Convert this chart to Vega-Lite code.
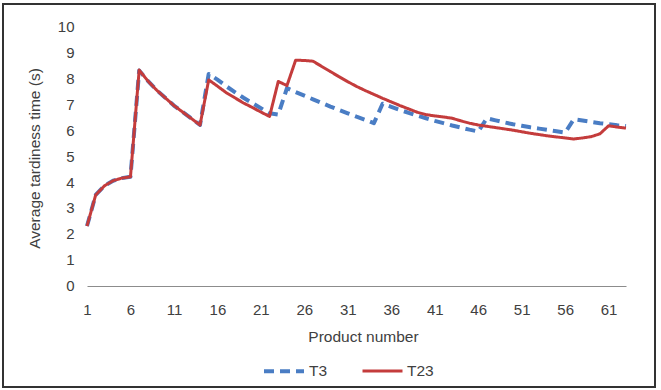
{
  "$schema": "https://vega.github.io/schema/vega-lite/v6.json",
  "width": 652,
  "height": 383,
  "autosize": {"type": "none"},
  "padding": {"left": 3, "top": 4, "right": 6, "bottom": 3},
  "background": "white",
  "config": {
    "view": {"stroke": "#333333", "strokeWidth": 2},
    "font": "Liberation Sans",
    "axis": {"labelFont": "Liberation Sans", "titleFont": "Liberation Sans", "labelColor": "#404040", "titleColor": "#404040", "titleFontWeight": "normal", "grid": false}
  },
  "data": {
    "values": [
      {"p":1,"s":"T3","v":2.3},{"p":2,"s":"T3","v":3.5},{"p":3,"s":"T3","v":3.85},{"p":4,"s":"T3","v":4.05},{"p":5,"s":"T3","v":4.15},{"p":6,"s":"T3","v":4.2},{"p":7,"s":"T3","v":8.3},{"p":8,"s":"T3","v":7.9},{"p":9,"s":"T3","v":7.55},{"p":10,"s":"T3","v":7.25},{"p":11,"s":"T3","v":6.95},{"p":12,"s":"T3","v":6.7},{"p":13,"s":"T3","v":6.45},{"p":14,"s":"T3","v":6.2},{"p":15,"s":"T3","v":8.17},{"p":16,"s":"T3","v":7.95},{"p":17,"s":"T3","v":7.7},{"p":18,"s":"T3","v":7.47},{"p":19,"s":"T3","v":7.25},{"p":20,"s":"T3","v":7.05},{"p":21,"s":"T3","v":6.85},{"p":22,"s":"T3","v":6.65},{"p":23,"s":"T3","v":6.6},{"p":24,"s":"T3","v":7.62},{"p":25,"s":"T3","v":7.47},{"p":26,"s":"T3","v":7.33},{"p":27,"s":"T3","v":7.19},{"p":28,"s":"T3","v":7.05},{"p":29,"s":"T3","v":6.91},{"p":30,"s":"T3","v":6.78},{"p":31,"s":"T3","v":6.65},{"p":32,"s":"T3","v":6.52},{"p":33,"s":"T3","v":6.4},{"p":34,"s":"T3","v":6.27},{"p":35,"s":"T3","v":7.02},{"p":36,"s":"T3","v":6.9},{"p":37,"s":"T3","v":6.78},{"p":38,"s":"T3","v":6.67},{"p":39,"s":"T3","v":6.56},{"p":40,"s":"T3","v":6.46},{"p":41,"s":"T3","v":6.36},{"p":42,"s":"T3","v":6.27},{"p":43,"s":"T3","v":6.18},{"p":44,"s":"T3","v":6.1},{"p":45,"s":"T3","v":6.02},{"p":46,"s":"T3","v":5.95},{"p":47,"s":"T3","v":6.46},{"p":48,"s":"T3","v":6.38},{"p":49,"s":"T3","v":6.3},{"p":50,"s":"T3","v":6.23},{"p":51,"s":"T3","v":6.17},{"p":52,"s":"T3","v":6.11},{"p":53,"s":"T3","v":6.06},{"p":54,"s":"T3","v":6.01},{"p":55,"s":"T3","v":5.96},{"p":56,"s":"T3","v":5.91},{"p":57,"s":"T3","v":6.42},{"p":58,"s":"T3","v":6.37},{"p":59,"s":"T3","v":6.32},{"p":60,"s":"T3","v":6.27},{"p":61,"s":"T3","v":6.23},{"p":62,"s":"T3","v":6.19},{"p":63,"s":"T3","v":6.16},
      {"p":1,"s":"T23","v":2.3},{"p":2,"s":"T23","v":3.5},{"p":3,"s":"T23","v":3.85},{"p":4,"s":"T23","v":4.05},{"p":5,"s":"T23","v":4.15},{"p":6,"s":"T23","v":4.2},{"p":7,"s":"T23","v":8.32},{"p":8,"s":"T23","v":7.9},{"p":9,"s":"T23","v":7.55},{"p":10,"s":"T23","v":7.25},{"p":11,"s":"T23","v":6.95},{"p":12,"s":"T23","v":6.7},{"p":13,"s":"T23","v":6.45},{"p":14,"s":"T23","v":6.2},{"p":15,"s":"T23","v":7.94},{"p":16,"s":"T23","v":7.7},{"p":17,"s":"T23","v":7.45},{"p":18,"s":"T23","v":7.25},{"p":19,"s":"T23","v":7.05},{"p":20,"s":"T23","v":6.88},{"p":21,"s":"T23","v":6.7},{"p":22,"s":"T23","v":6.53},{"p":23,"s":"T23","v":7.88},{"p":24,"s":"T23","v":7.72},{"p":25,"s":"T23","v":8.7},{"p":26,"s":"T23","v":8.69},{"p":27,"s":"T23","v":8.66},{"p":28,"s":"T23","v":8.46},{"p":29,"s":"T23","v":8.26},{"p":30,"s":"T23","v":8.06},{"p":31,"s":"T23","v":7.87},{"p":32,"s":"T23","v":7.69},{"p":33,"s":"T23","v":7.53},{"p":34,"s":"T23","v":7.38},{"p":35,"s":"T23","v":7.23},{"p":36,"s":"T23","v":7.09},{"p":37,"s":"T23","v":6.95},{"p":38,"s":"T23","v":6.82},{"p":39,"s":"T23","v":6.69},{"p":40,"s":"T23","v":6.6},{"p":41,"s":"T23","v":6.55},{"p":42,"s":"T23","v":6.51},{"p":43,"s":"T23","v":6.46},{"p":44,"s":"T23","v":6.36},{"p":45,"s":"T23","v":6.27},{"p":46,"s":"T23","v":6.2},{"p":47,"s":"T23","v":6.15},{"p":48,"s":"T23","v":6.1},{"p":49,"s":"T23","v":6.05},{"p":50,"s":"T23","v":6.0},{"p":51,"s":"T23","v":5.94},{"p":52,"s":"T23","v":5.88},{"p":53,"s":"T23","v":5.83},{"p":54,"s":"T23","v":5.78},{"p":55,"s":"T23","v":5.74},{"p":56,"s":"T23","v":5.7},{"p":57,"s":"T23","v":5.66},{"p":58,"s":"T23","v":5.7},{"p":59,"s":"T23","v":5.75},{"p":60,"s":"T23","v":5.86},{"p":61,"s":"T23","v":6.17},{"p":62,"s":"T23","v":6.12},{"p":63,"s":"T23","v":6.08}
    ]
  },
  "mark": {"type": "line", "strokeCap": "butt", "strokeJoin": "round"},
  "encoding": {
    "x": {
      "field": "p", "type": "quantitative",
      "scale": {"domain": [1, 63], "range": [84, 623], "nice": false, "zero": false},
      "axis": {
        "values": [1, 6, 11, 16, 21, 26, 31, 36, 41, 46, 51, 56, 61],
        "offset": -101, "ticks": false, "tickSize": 0, "domainColor": "#8c8c8c", "domainWidth": 1.2,
        "labelFontSize": 15, "labelPadding": 16, "labelFlush": false,
        "title": "Product number", "titleFontSize": 15.5, "titleX": 360, "titleY": 50, "titleBaseline": "middle"
      }
    },
    "y": {
      "field": "v", "type": "quantitative",
      "scale": {"domain": [0, 10], "range": [281.7, 22.5], "nice": false},
      "axis": {
        "values": [0, 1, 2, 3, 4, 5, 6, 7, 8, 9, 10],
        "offset": -71, "domain": false, "ticks": false, "tickSize": 0,
        "labelFontSize": 15, "labelPadding": 0,
        "title": "Average tardiness time (s)", "titleFontSize": 15.5, "titleX": -32, "titleY": 154, "titleAngle": -90, "titleBaseline": "bottom", "titleAlign": "center"
      }
    },
    "color": {
      "field": "s", "type": "nominal",
      "scale": {"domain": ["T3", "T23"], "range": ["#4A7DC4", "#C43C3C"]},
      "legend": {
        "title": null, "orient": "none", "direction": "horizontal", "legendX": 259, "legendY": 345,
        "symbolType": "stroke", "symbolSize": 1600, "symbolStrokeWidth": 3.5,
        "labelFontSize": 15.5, "labelColor": "#404040", "labelFont": "Liberation Sans", "labelOffset": 3, "columnPadding": 28, "padding": 0
      }
    },
    "strokeDash": {
      "field": "s", "type": "nominal",
      "scale": {"domain": ["T3", "T23"], "range": [[10, 6], [1, 0]]},
      "legend": {
        "title": null, "orient": "none", "direction": "horizontal", "legendX": 259, "legendY": 345,
        "symbolType": "stroke", "symbolSize": 1600, "symbolStrokeWidth": 3.5,
        "labelFontSize": 15.5, "labelColor": "#404040", "labelFont": "Liberation Sans", "labelOffset": 3, "columnPadding": 28, "padding": 0
      }
    },
    "strokeWidth": {
      "field": "s", "type": "nominal",
      "scale": {"domain": ["T3", "T23"], "range": [4, 3]},
      "legend": null
    }
  }
}
